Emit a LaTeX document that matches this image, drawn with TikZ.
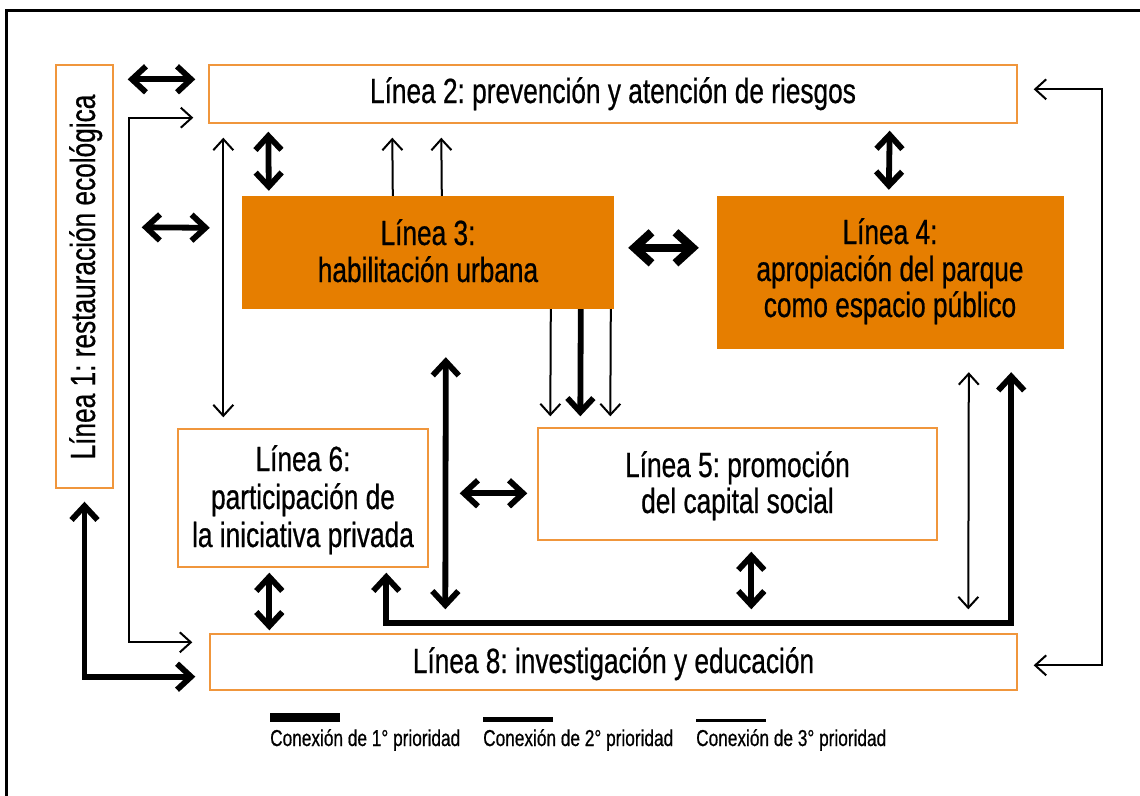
\documentclass[tikz,border=0pt]{standalone}
\usepackage{fontspec}
\setmainfont{Liberation Sans}[FakeStretch=0.75, FakeBold=0.6]
\usetikzlibrary{arrows.meta,calc}
\definecolor{orfill}{RGB}{230,126,0}
\definecolor{orline}{RGB}{240,150,60}
\frenchspacing
\begin{document}
\begin{tikzpicture}[x=1pt,y=-1pt,
  wbox/.style={draw=orline, line width=1.4pt, fill=white, inner sep=0pt},
  obox/.style={draw=none, fill=orfill, inner sep=0pt},
  lbl/.style={font=\fontsize{35pt}{40pt}\selectfont, inner sep=0pt, anchor=base},
  leg/.style={font=\fontsize{23pt}{26pt}\selectfont, inner sep=0pt, anchor=base west},
  c1/.style={line width=8.5pt, line join=miter, >={Straight Barb[length=17pt,width=31pt,sharp]}},
  c2/.style={line width=5.8pt, line join=miter, >={Straight Barb[length=14pt,width=26pt,sharp]}},
  c3/.style={line width=2pt, line join=miter, >={Straight Barb[length=11pt,width=20pt,sharp]}},
  frame/.style={line width=3pt, line join=miter}]
\useasboundingbox (0,0) rectangle (1140,795);
\fill[white] (0,0) rectangle (1140,795);
\draw[frame] (6,800) -- (6,10) -- (1145,10);

% boxes
\node[wbox, minimum width=57pt, minimum height=423pt] (L1) at (84.5,276.5) {};
\node[wbox, minimum width=808pt, minimum height=58pt] (L2) at (613,94) {};
\node[obox, minimum width=372pt, minimum height=113pt] (L3) at (428,252.5) {};
\node[obox, minimum width=347pt, minimum height=153pt] (L4) at (890.5,272.5) {};
\node[wbox, minimum width=399pt, minimum height=112pt] (L5) at (737.5,484) {};
\node[wbox, minimum width=250pt, minimum height=138pt] (L6) at (303,498) {};
\node[wbox, minimum width=807pt, minimum height=56pt] (L8) at (613.5,662) {};

% texts
\node[lbl, rotate=90] (t1) at (95,277) {Línea 1: restauración ecológica};
\node[lbl] (t2) at (613,103) {Línea 2: prevención y atención de riesgos};
\node[lbl] (t3a) at (428,245) {Línea 3:};
\node[lbl] (t3b) at (428,282) {habilitación urbana};
\node[lbl] (t4a) at (890,244) {Línea 4:};
\node[lbl] (t4b) at (890,281) {apropiación del parque};
\node[lbl] (t4c) at (890,317) {como espacio público};
\node[lbl] (t5a) at (737.5,477) {Línea 5: promoción};
\node[lbl] (t5b) at (737.5,513) {del capital social};
\node[lbl] (t6a) at (303,471) {Línea 6:};
\node[lbl] (t6b) at (303,509) {participación de};
\node[lbl] (t6c) at (303,547) {la iniciativa privada};
\node[lbl] (t8) at (613.5,673) {Línea 8: investigación y educación};

% connectors
\draw[c2,<->] ([shift={(14,15)}]L1.north east) -- ([shift={(-13,15)}]L2.north west);
\draw[c3,<->] ([shift={(-15,-6)}]L2.south west) -- ++(-64,0) |- ([shift={(-17,9)}]L8.north west);
\draw[c2,<->] ([shift={(0,13)}]L1.south) |- ([shift={(-14,-14)}]L8.south west);
\draw[c3,<->] ([shift={(15,14)}]L2.south west) -- ([shift={(46,-11)}]L6.north west);
\draw[c2,<->] ([shift={(60,8)}]L2.south west) -- ([shift={(27,-5)}]L3.north west);
\draw[c2,<->] ([shift={(28,163)}]L1.north east) -- ([shift={(-32,32)}]L3.north west);
\draw[c3,->] ([shift={(151,0)}]L3.north west) -- ([shift={(184,14)}]L2.south west);
\draw[c3,->] ([shift={(200,0)}]L3.north west) -- ([shift={(233,14)}]L2.south west);
\draw[c2,<->] ([shift={(-128,7)}]L2.south east) -- ([shift={(172,-6)}]L4.north west);
\draw[c1,<->] ([shift={(14,52)}]L3.north east) -- ([shift={(-18,52)}]L4.north west);
\draw[c3,->] ([shift={(309,0)}]L3.south west) -- ([shift={(13,-11)}]L5.north west);
\draw[c2,->] ([shift={(339,0)}]L3.south west) -- ([shift={(43,-11)}]L5.north west);
\draw[c3,->] ([shift={(369,0)}]L3.south west) -- ([shift={(73,-11)}]L5.north west);
\draw[c2,<->] ([shift={(204,48)}]L3.south west) -- ([shift={(236,-24)}]L8.north west);
\draw[c2,<->] ([shift={(31,65)}]L6.north east) -- ([shift={(-10,66)}]L5.north west);
\draw[c2,<->] ([shift={(92,5)}]L6.south west) -- ([shift={(60,-3)}]L8.north west);
\draw[c2,<->] ([shift={(209,5)}]L6.south west) -- ++(0,50) -| ([shift={(-53,23)}]L4.south east);
\draw[c2,<->] ([shift={(214,11)}]L5.south west) -- ([shift={(542,-24)}]L8.north west);
\draw[c3,<->] ([shift={(252,23)}]L4.south west) -- ([shift={(759,-24)}]L8.north west);
\draw[c3,<->] ([shift={(16,25)}]L2.north east) -- ++(68,0) |- ([shift={(16,32)}]L8.north east);

% legend
\node[leg] (leg1) at (270,746) {Conexión de 1° prioridad};
\node[leg] (leg2) at (483,746) {Conexión de 2° prioridad};
\node[leg] (leg3) at (696,746) {Conexión de 3° prioridad};
\draw[line width=9pt] ([shift={(0,-28.5)}]leg1.base west) -- ++(70,0);
\draw[line width=5.5pt] ([shift={(0,-26.5)}]leg2.base west) -- ++(70,0);
\draw[line width=2.3pt] ([shift={(0,-25.5)}]leg3.base west) -- ++(70,0);
\end{tikzpicture}
\end{document}
